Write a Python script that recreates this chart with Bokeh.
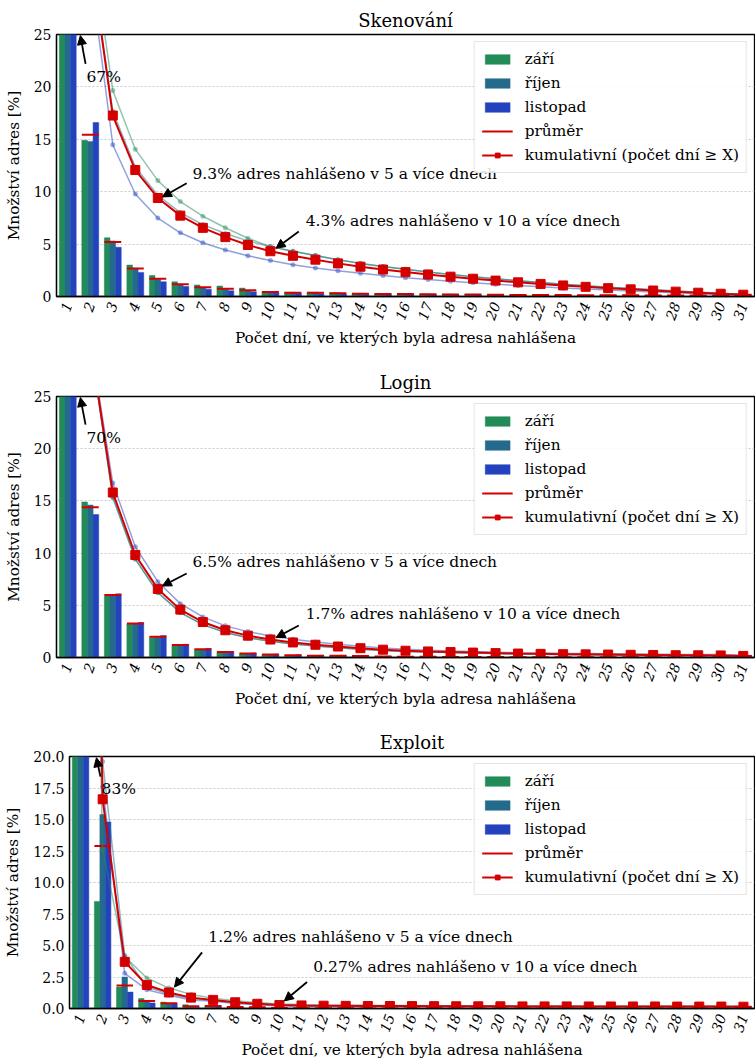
import numpy as np
from bokeh.plotting import figure
from bokeh.layouts import column
from bokeh.models import (ColumnDataSource, Range1d, FixedTicker, NumeralTickFormatter,
                          Legend, LegendItem, Arrow, NormalHead, Label)
from bokeh.transform import dodge
from bokeh.embed import file_html
from bokeh.resources import INLINE

# ---------------- data ----------------
days = list(range(1, 32))
months = ["září", "říjen", "listopad"]
titles = ["Skenování", "Login", "Exploit"]

# share of addresses [%] reported on exactly N days (N = 1..31)
skenovani_zari = [65.5, 14.9, 5.6, 3.0, 2.0, 1.4, 1.1, 1.0, 0.8, 0.45, 0.4, 0.4, 0.35, 0.3, 0.27, 0.25,
                  0.23, 0.22, 0.2, 0.18, 0.17, 0.16, 0.15, 0.14, 0.13, 0.12, 0.12, 0.11, 0.11, 0.1, 0.2]
skenovani_rijen = [67.6, 14.8, 5.3, 2.7, 1.65, 1.15, 0.85, 0.7, 0.55, 0.45, 0.4, 0.4, 0.35, 0.3, 0.27, 0.25,
                   0.23, 0.22, 0.2, 0.18, 0.17, 0.16, 0.15, 0.14, 0.13, 0.12, 0.12, 0.11, 0.11, 0.1, 0.2]
skenovani_listopad = [69.0, 16.6, 4.7, 2.3, 1.4, 0.95, 0.7, 0.55, 0.45, 0.4, 0.3, 0.27, 0.24, 0.22, 0.2, 0.18,
                      0.16, 0.15, 0.14, 0.13, 0.12, 0.11, 0.1, 0.1, 0.09, 0.09, 0.08, 0.08, 0.08, 0.08, 0.11]

login_zari = [69.8, 14.9, 5.9, 3.2, 1.9, 1.15, 0.75, 0.5, 0.35, 0.26, 0.2, 0.15, 0.14, 0.13, 0.09, 0.06,
              0.05, 0.05, 0.04, 0.04, 0.03, 0.03, 0.02, 0.02, 0.02, 0.02, 0.02, 0.01, 0.01, 0.04, 0.12]
login_rijen = [70.0, 14.6, 5.95, 3.2, 1.95, 1.15, 0.75, 0.5, 0.35, 0.26, 0.2, 0.15, 0.14, 0.13, 0.09, 0.06,
               0.05, 0.05, 0.04, 0.04, 0.03, 0.03, 0.02, 0.02, 0.02, 0.02, 0.02, 0.01, 0.01, 0.04, 0.12]
login_listopad = [69.5, 13.7, 6.1, 3.35, 2.1, 1.27, 0.86, 0.55, 0.42, 0.32, 0.26, 0.21, 0.2, 0.16, 0.12, 0.09,
                  0.08, 0.05, 0.07, 0.04, 0.03, 0.03, 0.02, 0.02, 0.02, 0.02, 0.02, 0.01, 0.01, 0.07, 0.21]

exploit_zari = [87.4, 8.5, 1.7, 0.8, 0.5, 0.3, 0.2, 0.15, 0.12, 0.04, 0.03, 0.02, 0.01, 0.01, 0.01, 0.01,
                0.01, 0.01, 0.0, 0.01, 0.0, 0.0, 0.01, 0.0, 0.0, 0.0, 0.01, 0.0, 0.0, 0.01, 0.16]
exploit_rijen = [80.4, 15.4, 2.5, 0.55, 0.35, 0.15, 0.18, 0.11, 0.09, 0.03, 0.02, 0.01, 0.01, 0.0, 0.01, 0.0,
                 0.01, 0.0, 0.0, 0.01, 0.0, 0.0, 0.01, 0.0, 0.0, 0.0, 0.01, 0.0, 0.0, 0.01, 0.14]
exploit_listopad = [82.4, 14.8, 1.3, 0.44, 0.38, 0.09, 0.19, 0.1, 0.09, 0.02, 0.01, 0.01, 0.01, 0.0, 0.0, 0.0,
                    0.01, 0.0, 0.0, 0.0, 0.0, 0.0, 0.0, 0.0, 0.0, 0.0, 0.0, 0.0, 0.0, 0.01, 0.13]

yticks_25 = [0, 5, 10, 15, 20, 25]
yticks_20 = [0, 2.5, 5, 7.5, 10, 12.5, 15, 17.5, 20]

# ---------------- style ----------------
FONT = "DejaVu Serif"
RED = "#d40000"
COLORS = ["#238b58", "#246a8c", "#2343be"]


def make_fig(title, series, ymax, yticks, fmt, notes, left_border, height, bottom_border):
    arr = [np.array(s, dtype=float) for s in series]
    mean = np.mean(arr, axis=0)
    cums = [np.cumsum(a[::-1])[::-1] for a in arr]
    cum_mean = np.cumsum(mean[::-1])[::-1]
    d = np.array(days, dtype=float)
    src = ColumnDataSource(dict(day=d, m0=arr[0], m1=arr[1], m2=arr[2], mean=mean,
                                c0=cums[0], c1=cums[1], c2=cums[2], cm=cum_mean,
                                x0=d - 0.375, x1=d + 0.375))
    p = figure(width=755, height=height,
               x_range=Range1d(0.5, 31.5), y_range=Range1d(0, ymax),
               output_backend="svg", toolbar_location=None,
               min_border_left=left_border, min_border_right=1,
               min_border_top=34, min_border_bottom=bottom_border)
    try:
        p.frame_align = False
    except Exception:
        pass
    p.title.text = title
    p.title.text_font = FONT
    p.title.text_font_size = "18px"
    p.title.text_font_style = "normal"
    p.title.text_color = "black"
    p.title.align = "center"
    p.title.standoff = 7

    bars = []
    for i, off in enumerate([-0.25, 0.0, 0.25]):
        r = p.vbar(x=dodge("day", off), top="m%d" % i, width=0.25, source=src,
                   fill_color=COLORS[i], line_color=COLORS[i], line_width=0.5)
        bars.append(r)
    seg = p.segment(x0="x0", y0="mean", x1="x1", y1="mean", source=src,
                    line_color=RED, line_width=2)
    for i in range(3):
        p.line(x="day", y="c%d" % i, source=src, line_color=COLORS[i], line_alpha=0.5, line_width=1.5)
        p.scatter(x="day", y="c%d" % i, source=src, size=5, fill_color=COLORS[i], fill_alpha=0.45,
                  line_color=None)
    cl = p.line(x="day", y="cm", source=src, line_color=RED, line_width=2)
    cs = p.scatter(x="day", y="cm", source=src, marker="square", size=9, fill_color=RED,
                   line_color=RED)

    items = [LegendItem(label=months[i], renderers=[bars[i]]) for i in range(3)]
    items.append(LegendItem(label="průměr", renderers=[seg]))
    items.append(LegendItem(label="kumulativní (počet dní ≥ X)", renderers=[cl, cs]))
    leg = Legend(items=items, location="top_right", label_text_font=FONT,
                 label_text_font_size="15.3px", label_text_color="black")
    leg.glyph_width = 31
    leg.glyph_height = 12
    leg.label_standoff = 12
    leg.label_height = 20
    leg.spacing = 4
    leg.padding = 7
    leg.margin = 7
    leg.border_line_color = "#cccccc"
    leg.border_line_width = 1
    leg.background_fill_alpha = 0.85
    p.add_layout(leg)

    for (tx, ty, text, ax0, ay0, ax1, ay1) in notes:
        p.add_layout(Arrow(end=NormalHead(size=9, fill_color="black", line_color="black"),
                           x_start=ax0, y_start=ay0, x_end=ax1, y_end=ay1,
                           line_color="black", line_width=1.8))
        p.add_layout(Label(x=tx, y=ty, text=text, text_font=FONT, text_font_size="15.5px",
                           text_baseline="middle", text_align="left", text_color="black"))

    p.xaxis.ticker = FixedTicker(ticks=days)
    p.yaxis.ticker = FixedTicker(ticks=yticks)
    if fmt:
        p.yaxis.formatter = NumeralTickFormatter(format=fmt)
    for ax in [p.xaxis[0], p.yaxis[0]]:
        ax.major_label_text_font = FONT
        ax.major_label_text_font_size = "14px"
        ax.major_label_text_color = "black"
        ax.major_tick_line_color = None
        ax.minor_tick_line_color = None
        ax.major_tick_out = 0
        ax.major_tick_in = 0
        ax.minor_tick_out = 0
        ax.minor_tick_in = 0
        ax.axis_line_color = "black"
        ax.axis_line_width = 1.3
        ax.axis_label_text_font = FONT
        ax.axis_label_text_font_size = "15.3px"
        ax.axis_label_text_font_style = "normal"
        ax.axis_label_text_color = "black"
    p.xaxis[0].major_label_orientation = 1.22
    p.xaxis[0].major_label_text_font_style = "italic"
    p.xaxis[0].major_label_standoff = 6
    p.yaxis[0].major_label_standoff = 5
    p.xaxis[0].axis_label = "Počet dní, ve kterých byla adresa nahlášena"
    p.yaxis[0].axis_label = "Množství adres [%]"
    p.xaxis[0].axis_label_standoff = 3
    p.yaxis[0].axis_label_standoff = 8
    p.xgrid.visible = False
    p.ygrid.grid_line_color = "#c8c8c8"
    p.ygrid.grid_line_dash = "2 2"
    p.ygrid.grid_line_width = 1
    p.outline_line_color = "black"
    p.outline_line_width = 1.3
    p.background_fill_color = "white"
    return p


p1 = make_fig(titles[0], [skenovani_zari, skenovani_rijen, skenovani_listopad], 25, yticks_25, None,
              [(1.83, 20.9, "67%", 1.79, 22.2, 1.56, 24.9),
               (6.54, 11.7, "9.3% adres nahlášeno v 5 a více dnech", 6.28, 10.8, 5.2, 9.5),
               (11.57, 7.25, "4.3% adres nahlášeno v 10 a více dnech", 11.26, 6.2, 10.25, 4.6)],
              56, 362, 66)
p2 = make_fig(titles[1], [login_zari, login_rijen, login_listopad], 25, yticks_25, None,
              [(1.83, 21.0, "70%", 1.79, 22.3, 1.56, 24.9),
               (6.54, 9.1, "6.5% adres nahlášeno v 5 a více dnech", 6.28, 8.05, 5.2, 6.85),
               (11.57, 4.2, "1.7% adres nahlášeno v 10 a více dnech", 11.26, 3.07, 10.25, 1.9)],
              56, 360, 65)
p3 = make_fig(titles[2], [exploit_zari, exploit_rijen, exploit_listopad], 20, yticks_20, "0.0",
              [(1.95, 17.4, "83%", 1.9, 18.4, 1.72, 19.9),
               (6.78, 5.7, "1.2% adres nahlášeno v 5 a více dnech", 6.5, 4.45, 5.25, 1.7),
               (11.53, 3.28, "0.27% adres nahlášeno v 10 a více dnech", 11.25, 2.1, 10.22, 0.6)],
              69, 340, 50)

layout = column(p1, p2, p3, spacing=0)
open("out.html", "w").write(file_html(layout, INLINE))
